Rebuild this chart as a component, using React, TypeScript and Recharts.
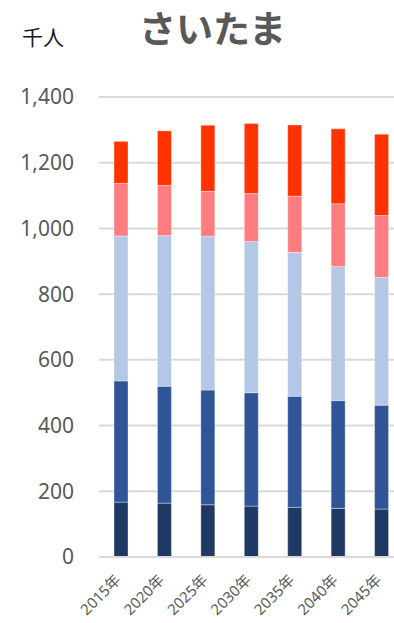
import React from 'react';
import { BarChart, Bar, XAxis, YAxis, CartesianGrid } from 'recharts';

const years = ['2015年', '2020年', '2025年', '2030年', '2035年', '2040年', '2045年'];
const age0to14 = [167, 164, 159, 155, 151, 148, 146];
const age15to39 = [369, 356, 349, 345, 338, 328, 316];
const age40to64 = [441, 458, 468, 460, 438, 408, 389];
const age65to74 = [160, 153, 137, 146, 171, 191, 188];
const age75plus = [128, 166, 201, 213, 217, 228, 248];
const yTicks = [0, 200, 400, 600, 800, 1000, 1200, 1400];

const seriesKeys = ['a', 'b', 'c', 'd', 'e'];
const seriesValues = [age0to14, age15to39, age40to64, age65to74, age75plus];
const seriesColors = ['#1f3864', '#2f5597', '#b4c7e7', '#ff7c80', '#ff3300'];

const data = years.map((year, i) => {
  const row: Record<string, string | number> = { year };
  seriesKeys.forEach((k, j) => {
    row[k] = seriesValues[j][i];
  });
  return row;
});

const fontStack = '"Noto Sans", "Noto Sans CJK JP", sans-serif';

const XTick = (props: any) => {
  const { x, y, payload } = props;
  return (
    <g transform={`translate(${x + 1},${y + 24})`}>
      <text
        x={0}
        y={0}
        textAnchor="end"
        transform="rotate(-45)"
        fill="#595959"
        fontSize={15}
        fontFamily={fontStack}
      >
        {payload.value}
      </text>
    </g>
  );
};

export default function App() {
  return (
    <div
      style={{
        position: 'absolute',
        left: 0,
        top: 0,
        width: 394,
        height: 623,
        overflow: 'hidden',
        background: '#fff',
      }}
    >
      <div
        style={{
          position: 'absolute',
          left: 22,
          top: 22,
          fontSize: 21,
          lineHeight: '28px',
          fontFamily: '"Noto Sans CJK JP", sans-serif',
          color: '#1a1a1a',
        }}
      >
        千人
      </div>
      <div
        style={{
          position: 'absolute',
          left: 139,
          top: 5,
          fontSize: 37,
          lineHeight: '44px',
          fontWeight: 'bold',
          fontFamily: '"Noto Sans CJK JP", sans-serif',
          color: '#595959',
        }}
      >
        さいたま
      </div>
      <div style={{ position: 'absolute', left: 0, top: 0 }}>
        <BarChart
          width={410}
          height={623}
          data={data}
          margin={{ top: 97, right: 7, bottom: 0, left: 0 }}
          barSize={14}
        >
          <CartesianGrid vertical={false} stroke="#d9d9d9" strokeWidth={2} />
          <XAxis
            dataKey="year"
            height={66}
            tickLine={false}
            tickSize={0}
            tickMargin={0}
            axisLine={{ stroke: '#d9d9d9', strokeWidth: 2 }}
            tick={<XTick />}
            interval={0}
          />
          <YAxis
            width={99}
            domain={[0, 1400]}
            ticks={yTicks}
            interval={0}
            tickLine={false}
            axisLine={false}
            tickSize={0}
            tickMargin={25}
            tickFormatter={(v: number) => v.toLocaleString('en-US')}
            tick={{ fill: '#595959', fontSize: 21, fontFamily: fontStack }}
          />
          {seriesKeys.map((k, j) => (
            <Bar
              key={k}
              dataKey={k}
              stackId="s"
              fill={seriesColors[j]}
              stroke="#ffffff"
              strokeOpacity={0.35}
              strokeWidth={1}
              isAnimationActive={false}
            />
          ))}
        </BarChart>
      </div>
    </div>
  );
}
